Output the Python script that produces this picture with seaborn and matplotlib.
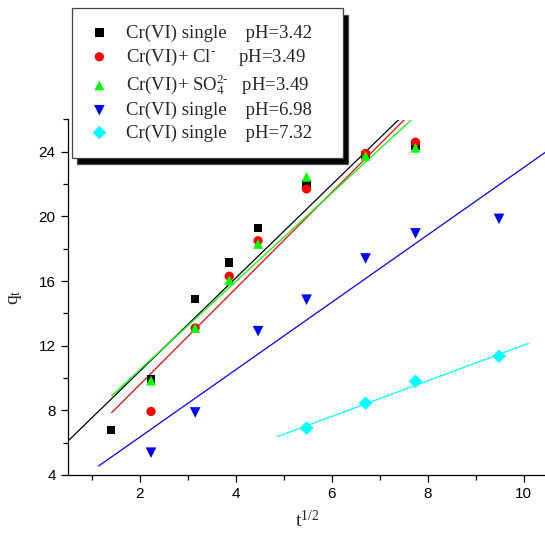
import numpy as np
import pandas as pd
import matplotlib
matplotlib.use("Agg")
import matplotlib.pyplot as plt
import seaborn as sns

# ---------------------------------------------------------------------------
# data (x = t^1/2, y = q_t)
# ---------------------------------------------------------------------------
x_acid = [1.41, 2.24, 3.16, 3.87, 4.47, 5.48, 6.71, 7.75]
q_single_342 = [6.8, 9.95, 14.9, 17.15, 19.3, 22.0, 23.8, 24.4]

x_cl = [2.24, 3.16, 3.87, 4.47, 5.48, 6.71, 7.75]
q_cl_349 = [7.93, 13.1, 16.3, 18.5, 21.7, 23.9, 24.6]
q_so4_349 = [9.84, 13.1, 16.05, 18.3, 22.45, 23.75, 24.25]

x_698 = [2.24, 3.16, 4.47, 5.48, 6.71, 7.75, 9.49]
q_single_698 = [5.38, 7.87, 12.9, 14.85, 17.4, 18.95, 19.85]

x_732 = [5.48, 6.71, 7.75, 9.49]
q_single_732 = [6.9, 8.45, 9.8, 11.35]

labels = [
    "Cr(VI) single    pH=3.42",
    r"Cr(VI)+ Cl$^{\text{-}}$     pH=3.49",
    r"Cr(VI)+ SO$_4^{\text{2-}}$   pH=3.49",
    "Cr(VI) single    pH=6.98",
    "Cr(VI) single    pH=7.32",
]
colors = ["black", "#ff0000", "#00ff00", "#0000ff", "#00ffff"]
markers = ["s", "o", "^", "v", "D"]

# linear fits (slope, intercept) and the x-span each fitted line covers
fit_slope = [2.887, 2.974, 2.735, 2.086, 1.102]
fit_icpt = [4.63, 3.63, 5.02, 2.16, 1.007]
fit_x0 = [0.5, 1.42, 1.42, 1.15, 4.875]
fit_x1 = [8.0, 8.0, 8.0, 10.6, 10.1]

series_x = [x_acid, x_cl, x_cl, x_698, x_732]
series_y = [q_single_342, q_cl_349, q_so4_349, q_single_698, q_single_732]

# ---------------------------------------------------------------------------
sns.set_style("ticks")
plt.rcParams["font.family"] = ["Liberation Sans", "DejaVu Sans"]
plt.rcParams["mathtext.fontset"] = "custom"
plt.rcParams["mathtext.rm"] = "Liberation Serif"
plt.rcParams["mathtext.it"] = "Liberation Serif"
plt.rcParams["mathtext.bf"] = "Liberation Serif:bold"

fig = plt.figure(figsize=(5.45, 5.33), dpi=100)
ax = fig.add_axes([67.5 / 545, 1 - 475 / 533, 480 / 545, 355.5 / 533])

for i in range(5):
    xs = np.array([fit_x0[i], fit_x1[i]])
    ax.plot(xs, fit_slope[i] * xs + fit_icpt[i], color=colors[i], lw=0.9,
            label="_nolegend_", zorder=2)

sizes = [36, 44, 50, 58, 48]
for i in range(5):
    df = pd.DataFrame({"x": series_x[i], "y": series_y[i]})
    sns.scatterplot(data=df, x="x", y="y", marker=markers[i], color=colors[i],
                    s=sizes[i], edgecolor="none", linewidth=0, label=labels[i],
                    ax=ax, zorder=3, clip_on=False)

ax.set_xlim(0.5, 10.5)
ax.set_ylim(4, 26)
ax.set_xticks([2, 4, 6, 8, 10])
ax.set_xticks([1, 3, 5, 7, 9], minor=True)
ax.set_yticks([4, 8, 12, 16, 20, 24])
ax.set_yticks([6, 10, 14, 18, 22, 26], minor=True)
ax.tick_params(which="major", direction="out", length=5, width=0.9,
               labelsize=11, color="black", labelcolor="black")
ax.tick_params(which="minor", direction="out", length=3.5, width=0.9, color="black")
for s in ["top", "right"]:
    ax.spines[s].set_visible(False)
for s in ["left", "bottom"]:
    ax.spines[s].set_linewidth(0.9)
    ax.spines[s].set_color("black")

ax.set_xlabel("t$^{1/2}$", fontsize=14, family="Liberation Serif")
ax.set_ylabel("q$_{t}$", fontsize=14, family="Liberation Serif")
ax.xaxis.set_label_coords(0.5, -0.127)
ax.xaxis.label.set_va("center")
ax.yaxis.set_label_coords(-0.109, 0.5)
ax.yaxis.label.set_va("center")

leg = ax.legend(loc="upper left", bbox_to_anchor=(71.7 / 545, 1 - 155.7 / 533, 271 / 545, 147.4 / 533),
                bbox_transform=fig.transFigure, mode="expand",
                prop={"family": "Liberation Serif", "size": 13.5},
                frameon=True, fancybox=False, edgecolor="#444444", framealpha=1,
                borderpad=0.85, handlelength=1.25, handletextpad=0.8,
                labelspacing=0.27, borderaxespad=0, scatterpoints=1,
                shadow={"ox": 3.5, "oy": -4.5, "facecolor": "black", "alpha": 1})
leg.get_frame().set_linewidth(0.9)
leg.set_zorder(10)

fig.savefig("out.png", dpi=100)
